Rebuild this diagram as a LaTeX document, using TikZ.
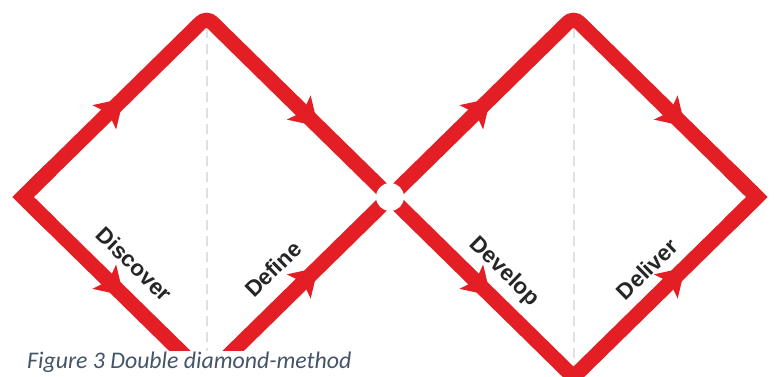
\documentclass[tikz,border=0pt]{standalone}
\usepackage{fontspec}
\setmainfont{Liberation Sans}
\newfontfamily\lblfont{Liberation Sans}
\newfontfamily\capfont{Carlito}
\usetikzlibrary{calc}
\definecolor{dred}{RGB}{228,30,37}
\definecolor{lblc}{RGB}{38,38,38}
\definecolor{capc}{RGB}{68,84,106}
\definecolor{dashc}{RGB}{225,225,225}
\begin{document}
\begin{tikzpicture}[x=1pt,y=1pt,
  diamondline/.style={draw=dred,line width=15pt,rounded corners=8pt},
  sharpvertex/.style={draw=dred,line width=15pt,line join=miter},
  guide/.style={draw=dashc,line width=2pt,dash pattern=on 10pt off 6pt},
  phase/.style={font=\lblfont\bfseries\fontsize{22.5}{24}\selectfont,text=lblc,inner sep=0pt},
  arrowhd/.pic={\fill[dred] (2,0) -- (-25,17) -- (-19,0) -- (-25,-17) -- cycle;}]
\useasboundingbox (0,0) rectangle (776,376);
\fill[white] (0,0) rectangle (776,376);
% vertices
\coordinate (L1) at (23,179);
\coordinate (T1) at (206.5,359);
\coordinate (B1) at (206.5,-1);
\coordinate (M)  at (390,179);
\coordinate (T2) at (573.5,359);
\coordinate (B2) at (573.5,-1);
\coordinate (R2) at (757,179);
% dashed guides
\draw[guide] (206.5,348) -- (206.5,0);
\draw[guide] (573.5,348) -- (573.5,11);
% diamonds
\draw[diamondline] (T1) -- (M) -- (B1) -- (L1) -- cycle;
\draw[diamondline] (T2) -- (R2) -- (B2) -- (M) -- cycle;
\draw[sharpvertex] ($(L1)!0.15!(T1)$) -- (L1) -- ($(L1)!0.15!(B1)$);
\draw[sharpvertex] ($(R2)!0.15!(T2)$) -- (R2) -- ($(R2)!0.15!(B2)$);
% arrowheads
\pic[rotate=44.45]  at ($(L1)!0.54!(T1)$) {arrowhd};
\pic[rotate=-44.45] at ($(T1)!0.60!(M)$)  {arrowhd};
\pic[rotate=-44.45] at ($(L1)!0.54!(B1)$) {arrowhd};
\pic[rotate=44.45]  at ($(B1)!0.60!(M)$)  {arrowhd};
\pic[rotate=44.45]  at ($(M)!0.54!(T2)$)  {arrowhd};
\pic[rotate=-44.45] at ($(T2)!0.60!(R2)$) {arrowhd};
\pic[rotate=-44.45] at ($(M)!0.54!(B2)$)  {arrowhd};
\pic[rotate=44.45]  at ($(B2)!0.60!(R2)$) {arrowhd};
% crossing gap
\node[circle,fill=white,minimum size=28pt,inner sep=0pt] (gap) at (M) {};
% labels
\node[phase,rotate=-44.45] (discover) at (134,112) {Discover};
\node[phase,rotate=44.45]  (define)   at (273,107) {Define};
\node[phase,rotate=-44.45] (develop)  at (504,104) {Develop};
\node[phase,rotate=44.45]  (deliver)  at (647,107) {Deliver};
% caption
\fill[white] (-5,-15) rectangle (365,25.5);
\node[anchor=base west,inner sep=0pt,text=capc,font=\capfont\itshape\fontsize{23.8}{27}\selectfont] (caption) at (27,8) {Figure 3 Double diamond-method};
\end{tikzpicture}
\end{document}
